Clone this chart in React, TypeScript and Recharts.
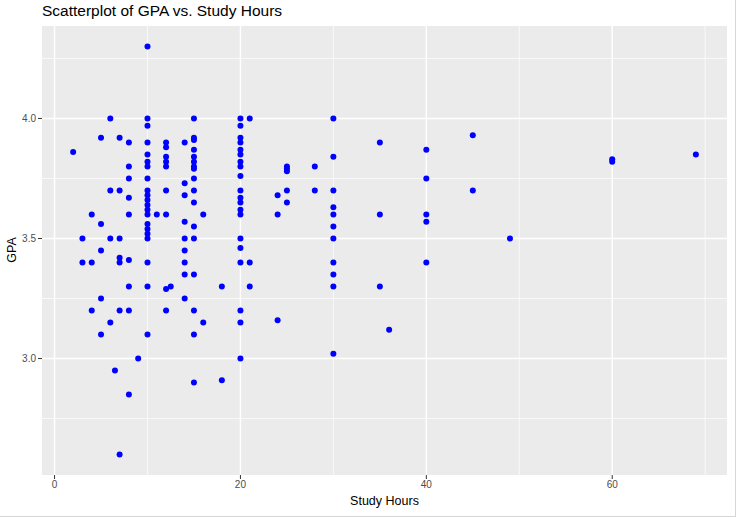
import React from 'react'
import { ScatterChart, Scatter, XAxis, YAxis, CartesianGrid } from 'recharts'

// study hours per student
const studyHours: number[] = [
  10, 6, 10, 10, 5, 7, 8, 10, 2, 10, 10, 8, 10, 8, 10, 6, 7, 10, 10, 8,
  10, 10, 4, 8, 10, 10, 11, 5, 10, 10, 10, 3, 6, 7, 10, 5, 7, 3, 4, 7,
  8, 10, 8, 10, 5, 4, 7, 8, 6, 5, 10, 9, 6.5, 8, 7,
  15, 20, 21, 20, 15, 15, 20, 12, 12, 14, 20, 15, 20, 20, 12, 15, 15, 12, 20, 12,
  15, 15, 20, 14, 15, 20, 12, 15, 20, 14, 20, 15, 20, 20, 12, 16, 20, 14, 15, 14,
  15, 20, 14, 20,
  14, 20, 21, 14, 15, 12, 12.5, 18, 21, 14, 12, 15, 20, 16, 20, 15, 20, 15, 18,
  30, 35, 30, 25, 25, 25, 28, 25, 28, 30, 24, 25, 30, 24, 30, 35, 30, 30, 30, 30,
  30, 35, 24, 30,
  45, 40, 60, 60, 69, 40, 45, 40, 40, 49, 40, 36,
]

const gpaValues: number[] = [
  4.30, 4.00, 4.00, 3.97, 3.92, 3.92, 3.90, 3.90, 3.86, 3.85, 3.82, 3.80, 3.80, 3.75, 3.75, 3.70, 3.70, 3.70, 3.68, 3.67,
  3.66, 3.64, 3.60, 3.60, 3.62, 3.60, 3.60, 3.56, 3.56, 3.54, 3.52, 3.50, 3.50, 3.50, 3.50, 3.45, 3.42, 3.40, 3.40, 3.40,
  3.41, 3.40, 3.30, 3.30, 3.25, 3.20, 3.20, 3.20, 3.15, 3.10, 3.10, 3.00, 2.95, 2.85, 2.60,
  4.00, 4.00, 4.00, 3.97, 3.92, 3.91, 3.92, 3.90, 3.88, 3.90, 3.90, 3.87, 3.87, 3.85, 3.84, 3.84, 3.82, 3.82, 3.82, 3.80,
  3.80, 3.79, 3.80, 3.73, 3.75, 3.76, 3.70, 3.70, 3.70, 3.68, 3.67, 3.65, 3.65, 3.62, 3.60, 3.60, 3.60, 3.57, 3.55, 3.50,
  3.50, 3.50, 3.45, 3.46,
  3.40, 3.40, 3.40, 3.35, 3.35, 3.29, 3.30, 3.30, 3.30, 3.25, 3.20, 3.20, 3.20, 3.15, 3.15, 3.10, 3.00, 2.90, 2.91,
  4.00, 3.90, 3.84, 3.80, 3.79, 3.78, 3.80, 3.70, 3.70, 3.70, 3.68, 3.65, 3.63, 3.60, 3.60, 3.60, 3.55, 3.50, 3.40, 3.35,
  3.30, 3.30, 3.16, 3.02,
  3.93, 3.87, 3.83, 3.82, 3.85, 3.75, 3.70, 3.60, 3.57, 3.50, 3.40, 3.12,
]

const xTicks = [0, 20, 40, 60]
const xMinor = [10, 30, 50, 70]
const yTicks = [3.0, 3.5, 4.0]
const yMinor = [2.75, 3.25, 3.75, 4.25]

const points = studyHours.map((h, i) => ({ hours: h, gpa: gpaValues[i] }))

const FONT = '"Liberation Sans", Arial, sans-serif'

const Dot = (props: any) => <circle cx={props.cx} cy={props.cy} r={3} fill="#0000FF" />

export default function App() {
  return (
    <div
      style={{
        position: 'absolute',
        left: 0,
        top: 0,
        width: 735,
        height: 516,
        background: '#fff',
        borderRight: '1px solid #d6d6d6',
        borderBottom: '1px solid #d6d6d6',
        fontFamily: FONT,
      }}
    >
      <div style={{ position: 'absolute', left: 42, top: 2, fontSize: 15.5, color: '#000' }}>
        Scatterplot of GPA vs. Study Hours
      </div>

      <ScatterChart
        width={736}
        height={517}
        margin={{ top: 26, right: 9, left: 0, bottom: 0 }}
        style={{ position: 'absolute', left: 0, top: 0 }}
      >
        <CartesianGrid
          fill="#EBEBEB"
          stroke="#FFFFFF"
          strokeWidth={0.7}
          verticalValues={xMinor}
          horizontalValues={yMinor}
        />
        <CartesianGrid
          stroke="#FFFFFF"
          strokeWidth={1.4}
          verticalValues={xTicks}
          horizontalValues={yTicks}
        />
        <XAxis
          type="number"
          dataKey="hours"
          domain={[-1.35, 72.35]}
          ticks={xTicks}
          allowDataOverflow
          axisLine={false}
          tickSize={4}
          tickMargin={2}
          height={42}
          tickLine={{ stroke: '#333333' }}
          tick={{ fill: '#4D4D4D', fontSize: 10, fontFamily: FONT }}
        />
        <YAxis
          type="number"
          dataKey="gpa"
          domain={[2.515, 4.385]}
          ticks={yTicks}
          allowDataOverflow
          axisLine={false}
          tickSize={4}
          tickMargin={2}
          width={42}
          tickFormatter={(v: number) => v.toFixed(1)}
          tickLine={{ stroke: '#333333' }}
          tick={{ fill: '#4D4D4D', fontSize: 10, fontFamily: FONT }}
        />
        <Scatter data={points} shape={Dot} isAnimationActive={false} />
      </ScatterChart>

      <div
        style={{
          position: 'absolute',
          left: 0,
          width: 769,
          top: 494,
          textAlign: 'center',
          fontSize: 12.5,
          color: '#000',
          paddingLeft: 42,
          boxSizing: 'border-box',
        }}
      >
        <span style={{ position: 'relative', left: -21 }}>Study Hours</span>
      </div>
      <div
        style={{
          position: 'absolute',
          left: 12,
          top: 250,
          fontSize: 12.5,
          color: '#000',
          transform: 'translate(-50%, -50%) rotate(-90deg)',
          whiteSpace: 'nowrap',
        }}
      >
        GPA
      </div>
    </div>
  )
}
